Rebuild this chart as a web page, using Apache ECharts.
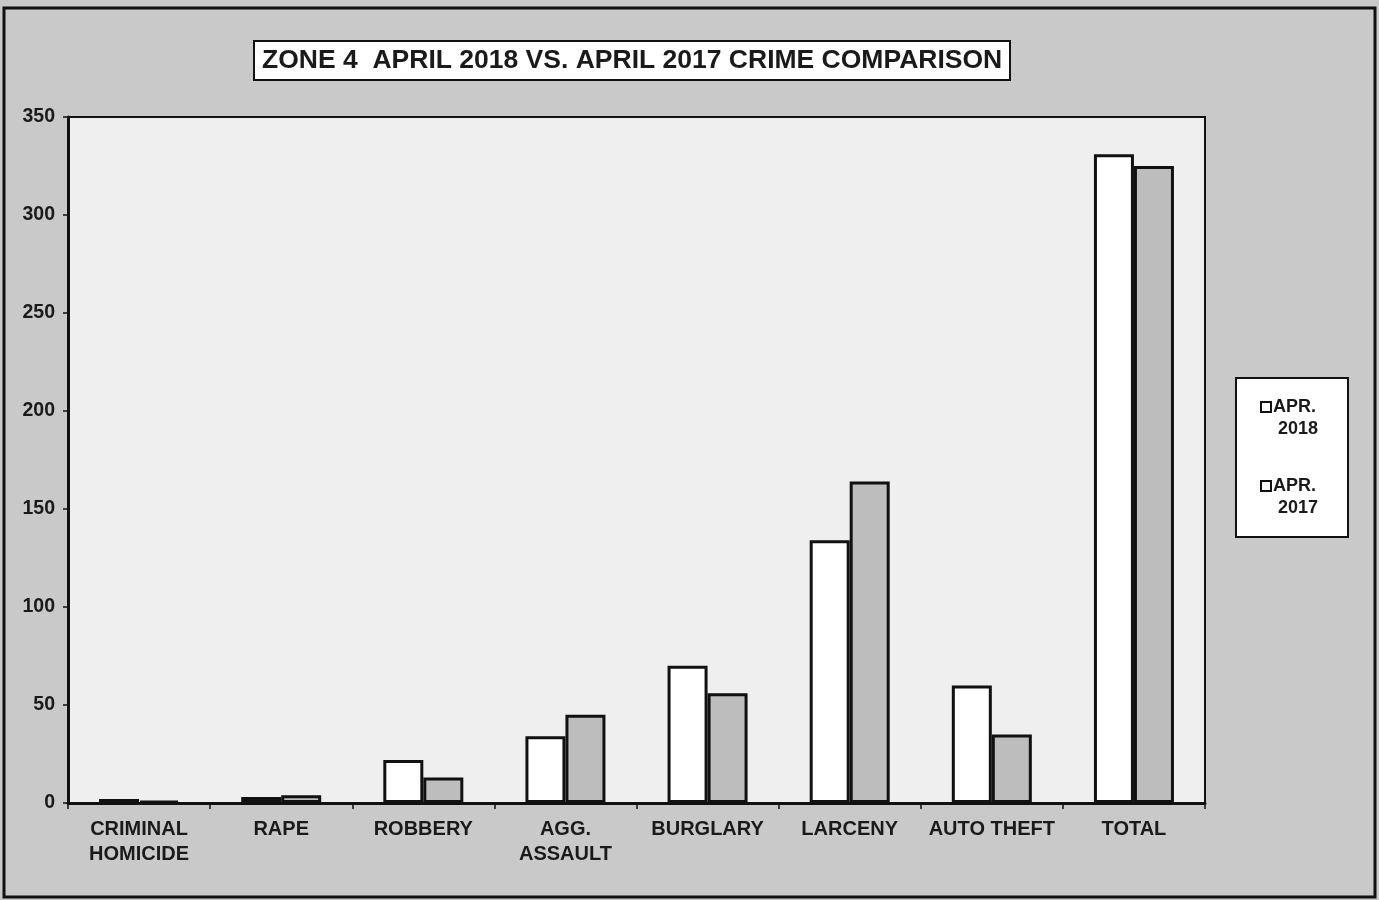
<!DOCTYPE html>
<html>
<head>
<meta charset="utf-8">
<script src="https://cdn.jsdelivr.net/npm/echarts@6/dist/echarts.min.js"></script>
<style>
  html, body { margin: 0; padding: 0; background: #c9c9c9; }
  #chart { width: 1379px; height: 900px; }
</style>
</head>
<body>
<div id="chart"></div>
<script>
// categories and counts
const categories = ['CRIMINAL\nHOMICIDE', 'RAPE', 'ROBBERY', 'AGG.\nASSAULT', 'BURGLARY', 'LARCENY', 'AUTO THEFT', 'TOTAL']
const apr2018 = [2, 3, 22, 34, 70, 134, 60, 331]
const apr2017 = [1, 4, 13, 45, 56, 164, 35, 325]
const seriesNames = ['APR. 2018', 'APR. 2017']

const chart = echarts.init(document.getElementById('chart'))

const option = {
  backgroundColor: '#c9c9c9',
  animation: false,
  textStyle: { fontFamily: 'Liberation Sans, Arial, sans-serif' },
  title: {
    text: 'ZONE 4  APRIL 2018 VS. APRIL 2017 CRIME COMPARISON',
    left: 254,
    top: 41,
    backgroundColor: '#ffffff',
    borderColor: '#111',
    borderWidth: 2,
    padding: [6, 8, 6, 8],
    textStyle: {
      fontSize: 26.5,
      fontWeight: 'bold',
      color: '#1a1a1a',
      fontFamily: 'Liberation Sans, Arial, sans-serif'
    }
  },
  legend: {
    data: seriesNames,
    orient: 'vertical',
    left: 1260,
    top: 374,
    padding: 0,
    itemGap: 13,
    itemWidth: 10,
    itemHeight: 10,
    icon: 'rect',
    // put the swatch next to the first line, like the original
    formatter: name => '\n' + name.replace(' ', '\n '),
    itemStyle: { color: '#ffffff', borderColor: '#111', borderWidth: 2 },
    textStyle: { fontSize: 18, fontWeight: 'bold', color: '#1a1a1a', lineHeight: 22, padding: [0, 0, 0, -3] }
  },
  grid: {
    left: 68,
    right: 174,
    top: 117,
    bottom: 97,
    show: true,
    backgroundColor: '#efefef',
    borderColor: '#111',
    borderWidth: 2
  },
  xAxis: {
    type: 'category',
    data: categories,
    axisLine: { lineStyle: { color: '#111', width: 3 } },
    axisTick: { show: true, length: 6, lineStyle: { color: '#111', width: 1.5 } },
    axisLabel: {
      color: '#1a1a1a',
      fontSize: 20,
      fontWeight: 'bold',
      lineHeight: 25,
      margin: 14,
      interval: 0
    }
  },
  yAxis: {
    type: 'value',
    min: 0,
    max: 350,
    interval: 50,
    splitLine: { show: false },
    axisLine: { show: true, lineStyle: { color: '#111', width: 3 } },
    axisTick: { show: true, length: 5, lineStyle: { color: '#111', width: 1.5 } },
    axisLabel: { color: '#1a1a1a', fontSize: 19.5, fontWeight: 'bold', margin: 13 }
  },
  series: [
    {
      name: seriesNames[0],
      type: 'bar',
      data: apr2018,
      barWidth: 40,
      barGap: '0%',
      itemStyle: { color: '#ffffff', borderColor: '#111', borderWidth: 3 }
    },
    {
      name: seriesNames[1],
      type: 'bar',
      data: apr2017,
      barWidth: 40,
      itemStyle: { color: '#bdbdbd', borderColor: '#111', borderWidth: 3 }
    }
  ],
  graphic: [
    {
      type: 'rect',
      shape: { x: 1236, y: 378, width: 112, height: 159 },
      style: { fill: '#ffffff', stroke: '#111', lineWidth: 2 },
      silent: true,
      z: -1
    },
    {
      type: 'rect',
      shape: { x: 4, y: 8, width: 1371, height: 889 },
      style: { fill: 'none', stroke: '#111', lineWidth: 3 },
      silent: true,
      z: 100
    }
  ]
}

chart.setOption(option)
</script>
</body>
</html>
